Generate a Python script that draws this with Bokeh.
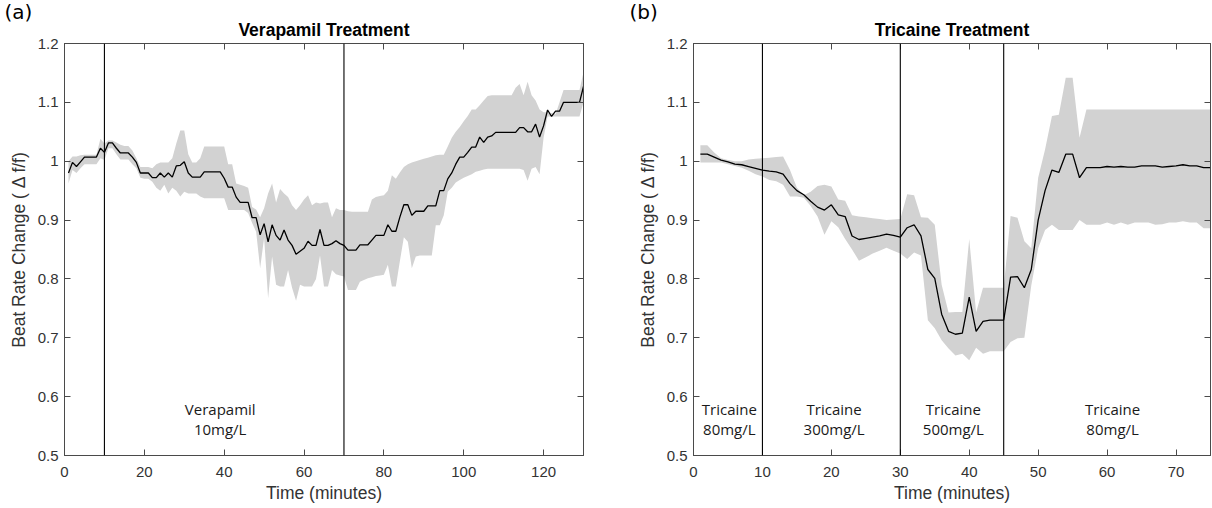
from bokeh.plotting import figure
from bokeh.layouts import row
from bokeh.models import Range1d, FixedTicker, LinearAxis, PrintfTickFormatter, CustomJSTickFormatter, Span, Title, ColumnDataSource
from bokeh.core.properties import value
from bokeh.embed import file_html
from bokeh.resources import INLINE

# ---------------- Panel (a): Verapamil ----------------
ver_time = list(range(1, 131))
ver_mean = [0.980, 0.998, 0.991, 0.999, 1.007, 1.007, 1.007, 1.007, 1.022, 1.015,
            1.031, 1.031, 1.022, 1.014, 1.014, 1.014, 1.007, 0.998, 0.980, 0.980,
            0.980, 0.972, 0.972, 0.980, 0.973, 0.980, 0.973, 0.992, 0.993, 0.999,
            0.980, 0.973, 0.973, 0.973, 0.982, 0.982, 0.982, 0.982, 0.982, 0.971,
            0.956, 0.956, 0.939, 0.930, 0.930, 0.930, 0.904, 0.904, 0.875, 0.894,
            0.863, 0.892, 0.874, 0.866, 0.883, 0.866, 0.857, 0.842, 0.847, 0.852,
            0.864, 0.857, 0.857, 0.884, 0.857, 0.857, 0.860, 0.865, 0.860, 0.857,
            0.849, 0.849, 0.849, 0.858, 0.858, 0.858, 0.866, 0.874, 0.874, 0.874,
            0.892, 0.881, 0.881, 0.905, 0.926, 0.926, 0.908, 0.915, 0.915, 0.915,
            0.924, 0.924, 0.924, 0.950, 0.950, 0.970, 0.980, 0.995, 1.007, 1.007,
            1.015, 1.024, 1.024, 1.041, 1.032, 1.041, 1.043, 1.049, 1.049, 1.049,
            1.049, 1.049, 1.049, 1.057, 1.057, 1.050, 1.050, 1.063, 1.041, 1.060,
            1.087, 1.076, 1.085, 1.085, 1.100, 1.100, 1.100, 1.100, 1.100, 1.127]
ver_upper = [1.000, 1.008, 1.008, 1.010, 1.011, 1.011, 1.011, 1.011, 1.038, 1.030,
             1.035, 1.035, 1.032, 1.028, 1.026, 1.026, 1.018, 1.005, 0.990, 0.990,
             0.990, 0.988, 0.995, 0.998, 0.998, 0.998, 1.005, 1.030, 1.052, 1.052,
             1.012, 0.998, 0.998, 1.005, 1.025, 1.025, 1.025, 1.025, 1.025, 1.025,
             0.995, 0.995, 0.962, 0.960, 0.958, 0.955, 0.922, 0.918, 0.905, 0.920,
             0.945, 0.962, 0.930, 0.953, 0.945, 0.939, 0.925, 0.917, 0.925, 0.935,
             0.942, 0.925, 0.930, 0.928, 0.930, 0.930, 0.905, 0.920, 0.917, 0.917,
             0.915, 0.914, 0.914, 0.914, 0.914, 0.914, 0.935, 0.939, 0.941, 0.942,
             0.950, 0.976, 0.970, 0.981, 0.990, 0.995, 0.998, 1.000, 1.002, 1.004,
             1.006, 1.008, 1.010, 1.011, 1.011, 1.025, 1.040, 1.050, 1.058, 1.068,
             1.077, 1.088, 1.088, 1.095, 1.103, 1.111, 1.112, 1.112, 1.112, 1.112,
             1.112, 1.112, 1.125, 1.131, 1.112, 1.135, 1.112, 1.103, 1.088, 1.083,
             1.083, 1.082, 1.080, 1.100, 1.121, 1.121, 1.121, 1.121, 1.121, 1.151]
ver_lower = [0.962, 0.985, 0.980, 0.988, 0.995, 0.995, 0.995, 0.995, 1.005, 1.002,
             1.022, 1.022, 1.012, 1.003, 1.003, 1.003, 0.995, 0.988, 0.972, 0.970,
             0.970, 0.965, 0.955, 0.950, 0.960, 0.945, 0.955, 0.950, 0.940, 0.948,
             0.945, 0.945, 0.945, 0.940, 0.937, 0.937, 0.937, 0.937, 0.937, 0.937,
             0.917, 0.917, 0.917, 0.917, 0.917, 0.912, 0.895, 0.880, 0.818, 0.870,
             0.767, 0.838, 0.790, 0.787, 0.787, 0.815, 0.785, 0.763, 0.790, 0.787,
             0.787, 0.787, 0.800, 0.840, 0.787, 0.787, 0.815, 0.808, 0.806, 0.804,
             0.781, 0.781, 0.781, 0.795, 0.798, 0.801, 0.803, 0.805, 0.806, 0.807,
             0.824, 0.787, 0.787, 0.830, 0.871, 0.863, 0.818, 0.838, 0.840, 0.840,
             0.840, 0.840, 0.891, 0.891, 0.908, 0.948, 0.955, 0.964, 0.968, 0.972,
             0.975, 0.978, 0.982, 0.984, 0.986, 0.987, 0.987, 0.987, 0.987, 0.987,
             0.987, 0.987, 0.987, 0.987, 0.985, 0.967, 0.987, 0.990, 0.978, 1.040,
             1.076, 1.076, 1.076, 1.076, 1.076, 1.076, 1.076, 1.076, 1.076, 1.100]
ver_boundaries = [10, 70]
ver_ann_x = [39]
ver_ann_text = ["Verapamil\n10mg/L"]
ver_xlim = [0, 130]
ver_xticks = [0, 20, 40, 60, 80, 100, 120]

# ---------------- Panel (b): Tricaine ----------------
tri_time = list(range(1, 76))
tri_mean = [1.012, 1.012, 1.007, 1.002, 0.999, 0.995, 0.994, 0.991, 0.988, 0.985,
            0.983, 0.982, 0.978, 0.962, 0.950, 0.943, 0.932, 0.922, 0.917, 0.926,
            0.909, 0.906, 0.873, 0.867, 0.869, 0.871, 0.873, 0.876, 0.874, 0.871,
            0.887, 0.892, 0.873, 0.816, 0.801, 0.740, 0.711, 0.706, 0.708, 0.769,
            0.711, 0.728, 0.730, 0.730, 0.730, 0.803, 0.804, 0.785, 0.816, 0.900,
            0.950, 0.985, 0.981, 1.012, 1.012, 0.972, 0.989, 0.989, 0.989, 0.991,
            0.990, 0.991, 0.990, 0.990, 0.992, 0.992, 0.992, 0.990, 0.991, 0.992,
            0.994, 0.992, 0.992, 0.989, 0.989]
tri_upper = [1.027, 1.027, 1.015, 1.005, 1.002, 1.000, 1.000, 1.003, 1.004, 1.005,
             1.006, 1.007, 1.008, 0.985, 0.955, 0.942, 0.948, 0.958, 0.960, 0.957,
             0.935, 0.933, 0.908, 0.906, 0.905, 0.903, 0.902, 0.900, 0.901, 0.902,
             0.944, 0.942, 0.905, 0.904, 0.892, 0.790, 0.743, 0.744, 0.744, 0.868,
             0.743, 0.785, 0.785, 0.785, 0.785, 0.907, 0.904, 0.864, 0.852, 0.972,
             1.020, 1.077, 1.079, 1.142, 1.142, 1.040, 1.088, 1.088, 1.088, 1.088,
             1.088, 1.088, 1.088, 1.088, 1.088, 1.088, 1.088, 1.088, 1.088, 1.088,
             1.088, 1.088, 1.088, 1.088, 1.088]
tri_lower = [0.998, 0.998, 0.998, 0.998, 0.995, 0.992, 0.989, 0.984, 0.978, 0.974,
             0.968, 0.966, 0.960, 0.940, 0.940, 0.938, 0.924, 0.906, 0.875, 0.898,
             0.888, 0.868, 0.850, 0.831, 0.837, 0.843, 0.848, 0.853, 0.848, 0.843,
             0.834, 0.845, 0.840, 0.730, 0.716, 0.696, 0.682, 0.670, 0.673, 0.662,
             0.683, 0.673, 0.677, 0.677, 0.677, 0.693, 0.699, 0.700, 0.789, 0.852,
             0.883, 0.892, 0.883, 0.883, 0.883, 0.900, 0.892, 0.892, 0.892, 0.896,
             0.892, 0.896, 0.892, 0.896, 0.896, 0.896, 0.892, 0.893, 0.896, 0.896,
             0.898, 0.896, 0.896, 0.886, 0.886]
tri_boundaries = [10, 30, 45]
tri_ann_x = [5.2, 20.4, 37.7, 60.8]
tri_ann_text = ["Tricaine\n80mg/L", "Tricaine\n300mg/L", "Tricaine\n500mg/L", "Tricaine\n80mg/L"]
tri_xlim = [0, 75]
tri_xticks = [0, 10, 20, 30, 40, 50, 60, 70]

ylim = [0.5, 1.2]
yticks = [0.5, 0.6, 0.7, 0.8, 0.9, 1.0, 1.1, 1.2]
ann_y = 0.562
y_label = "Beat Rate Change ( \u0394 f/f)"
x_label = "Time (minutes)"

FRAME = "#4a4a4a"
TICKTXT = "#333333"
BAND = "#d2d2d2"
SANS = "Liberation Sans"


def style_axis(ax, ticks, labelled):
    ax.ticker = FixedTicker(ticks=ticks)
    ax.axis_line_color = FRAME
    ax.axis_line_width = 1
    ax.major_tick_line_color = FRAME
    ax.major_tick_in = 6
    ax.major_tick_out = 0
    ax.minor_tick_line_color = None
    if labelled:
        ax.formatter = PrintfTickFormatter(format="%g")
        ax.major_label_text_font = SANS
        ax.major_label_text_font_size = "15px"
        ax.major_label_text_color = TICKTXT
        ax.axis_label_text_font = SANS
        ax.axis_label_text_font_size = "17.5px"
        ax.axis_label_text_font_style = "normal"
        ax.axis_label_text_color = TICKTXT
    else:
        ax.formatter = CustomJSTickFormatter(code="return '';")
        ax.major_label_standoff = 0


def make_panel(width, bl, br, xlim, xticks, t, mean, lo, hi, bounds, ax_, atext,
               title, tag, tag_offset):
    p = figure(width=width, height=508, x_range=Range1d(*xlim), y_range=Range1d(*ylim),
               output_backend="svg", toolbar_location=None, title=None,
               min_border_left=bl, min_border_right=br, min_border_top=43, min_border_bottom=53)
    p.grid.visible = False
    p.outline_line_color = FRAME
    p.background_fill_color = "white"
    p.border_fill_color = "white"

    src = ColumnDataSource(dict(t=t, mean=mean, lo=lo, hi=hi))
    p.varea(x="t", y1="lo", y2="hi", source=src, fill_color=BAND, fill_alpha=1.0)
    p.line(x="t", y="mean", source=src, line_color="black", line_width=1.3)

    for b in bounds:
        p.add_layout(Span(location=b, dimension="height", line_color="black", line_width=1.1))

    asrc = ColumnDataSource(dict(x=ax_, y=[ann_y] * len(ax_), text=atext))
    p.text(x="x", y="y", text="text", source=asrc, text_align="center", text_baseline="middle",
           text_font=value("Open Sans"), text_font_size="15px", text_color="#1a1a1a",
           text_line_height=1.0)

    style_axis(p.xaxis[0], xticks, True)
    style_axis(p.yaxis[0], yticks, True)
    p.xaxis[0].axis_label = x_label
    p.yaxis[0].axis_label = y_label
    p.xaxis[0].major_label_standoff = 11
    p.xaxis[0].axis_label_standoff = 3
    p.yaxis[0].major_label_standoff = 6
    p.yaxis[0].axis_label_standoff = 6

    top = LinearAxis()
    style_axis(top, xticks, False)
    p.add_layout(top, "above")
    right = LinearAxis()
    style_axis(right, yticks, False)
    p.add_layout(right, "right")

    p.add_layout(Title(text=title, align="center", text_font=SANS, text_font_size="17.5px",
                       text_font_style="bold", text_color="black", standoff=7), "above")
    p.add_layout(Title(text=tag, align="left", offset=tag_offset, text_font="DejaVu Sans",
                       text_font_size="20px", text_font_style="normal", text_color="black",
                       standoff=-18), "above")
    return p


p1 = make_panel(606, 64, 23, ver_xlim, ver_xticks, ver_time, ver_mean, ver_lower, ver_upper,
                ver_boundaries, ver_ann_x, ver_ann_text, "Verapamil Treatment", "(a)", -60)
p2 = make_panel(606, 87, 2, tri_xlim, tri_xticks, tri_time, tri_mean, tri_lower, tri_upper,
                tri_boundaries, tri_ann_x, tri_ann_text, "Tricaine Treatment", "(b)", -64)

layout = row(p1, p2)
open("out.html", "w").write(file_html(layout, INLINE))
